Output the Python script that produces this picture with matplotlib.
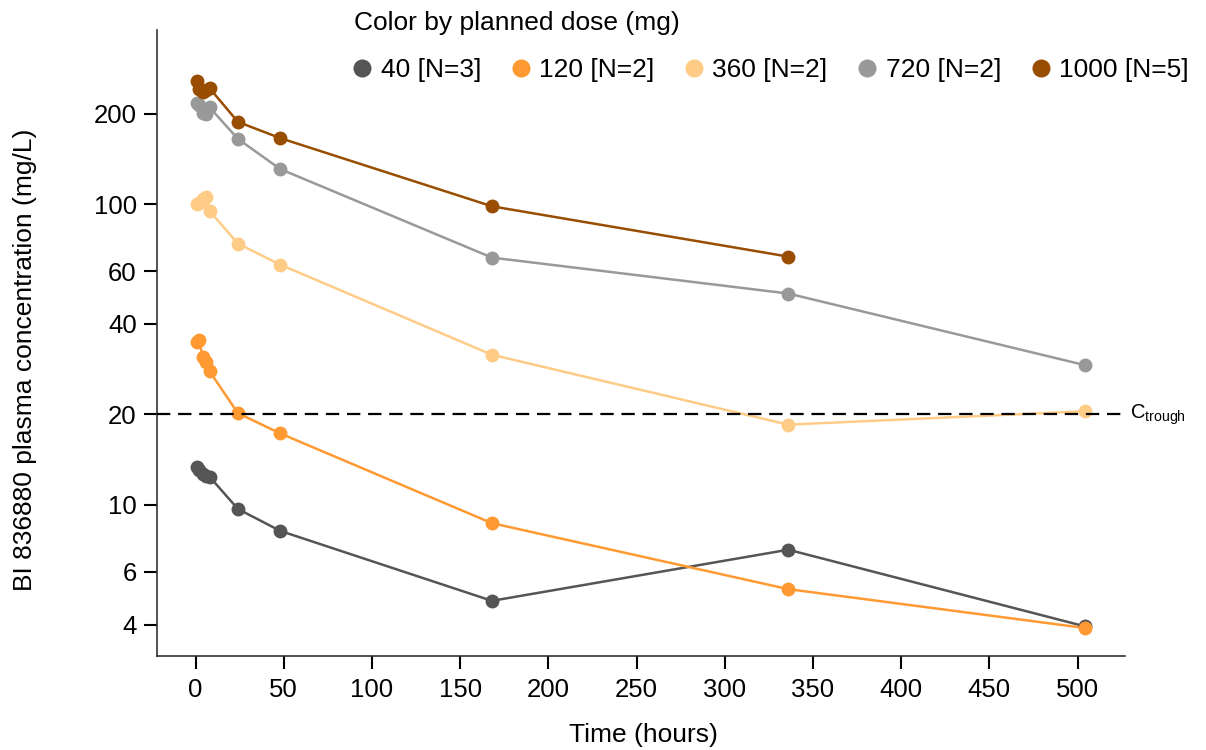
import numpy as np
import matplotlib.pyplot as plt
from matplotlib.ticker import FixedLocator, NullLocator, FixedFormatter

plt.rcParams['font.family'] = ['Liberation Sans', 'DejaVu Sans']

TIME_H = [1, 2, 4, 6, 8, 24, 48, 168, 336, 504]
DOSES = ['40', '120', '360', '720', '1000']
N_PAT = [3, 2, 2, 2, 5]
COLORS = ['#555555', '#FF9A33', '#FFCC88', '#999999', '#994D00']

CONC_40 = [13.4, 13.1, 12.7, 12.5, 12.4, 9.7, 8.2, 4.8, 7.1, 3.95]
CONC_120 = [34.8, 35.3, 31.0, 29.8, 27.8, 20.2, 17.3, 8.7, 5.25, 3.9]
CONC_360 = [100, 101, 104, 106, 95, 74, 63, 31.6, 18.5, 20.5]
CONC_720 = [218, 214, 202, 200, 210, 165, 131, 66.5, 50.5, 29.2]
CONC_1000 = [258, 242, 236, 240, 243, 188, 166, 98.5, 67, np.nan]
ALL_CONC = [CONC_40, CONC_120, CONC_360, CONC_720, CONC_1000]

C_TROUGH = 20
Y_TICKS = [4, 6, 10, 20, 40, 60, 100, 200]
X_TICKS = list(range(0, 501, 50))

fig = plt.figure(figsize=(12.06, 7.5), dpi=100)
ax = fig.add_axes([0.130, 0.125, 0.803, 0.835])

handles = []
for dose, n, col, conc in zip(DOSES, N_PAT, COLORS, ALL_CONC):
    t = np.array(TIME_H, dtype=float)
    c = np.array(conc, dtype=float)
    ok = ~np.isnan(c)
    ax.plot(t[ok], c[ok], '-', color=col, lw=1.8, zorder=2)
    h, = ax.plot(t[ok], c[ok], 'o', color=col, ms=10, mec='none', zorder=3,
                 label='%s [N=%d]' % (dose, n))
    handles.append(h)

ax.axhline(C_TROUGH, color='black', lw=1.6, ls=(0, (6, 3.5)), zorder=4)
ax.text(1.005, C_TROUGH, r'C$_{\mathregular{trough}}$', transform=ax.get_yaxis_transform(),
        va='center', ha='left', fontsize=14.5)

ax.set_yscale('log')
ax.set_ylim(3.14, 380)
ax.set_xlim(-22, 527)
ax.yaxis.set_major_locator(FixedLocator(Y_TICKS))
ax.yaxis.set_major_formatter(FixedFormatter([str(v) for v in Y_TICKS]))
ax.yaxis.set_minor_locator(NullLocator())
ax.set_xticks(X_TICKS)

for s in ['top', 'right']:
    ax.spines[s].set_visible(False)
for s in ['left', 'bottom']:
    ax.spines[s].set_linewidth(1.2)
    ax.spines[s].set_color('#333333')
ax.tick_params(axis='both', labelsize=18.5, width=1.5, length=9.5, direction='out')
ax.tick_params(axis='x', pad=6)
ax.tick_params(axis='y', pad=5)
ax.set_xlabel('Time (hours)', fontsize=19, va='center')
ax.xaxis.set_label_coords(0.503, -0.126)
ax.set_ylabel('BI 836880 plasma concentration (mg/L)', fontsize=19, va='center')
ax.yaxis.set_label_coords(-0.136, 0.473)

leg = fig.legend(handles=handles, loc='upper left', bbox_to_anchor=(0.285, 1.0),
                 ncol=5, frameon=False, fontsize=19, title='Color by planned dose (mg)',
                 title_fontsize=19, alignment='left', handlelength=0.6,
                 handletextpad=0.4, columnspacing=1.2, markerscale=1.3,
                 borderaxespad=0.0, labelspacing=0.5)
leg._legend_box.sep = 17

fig.savefig('out.png', dpi=100)
